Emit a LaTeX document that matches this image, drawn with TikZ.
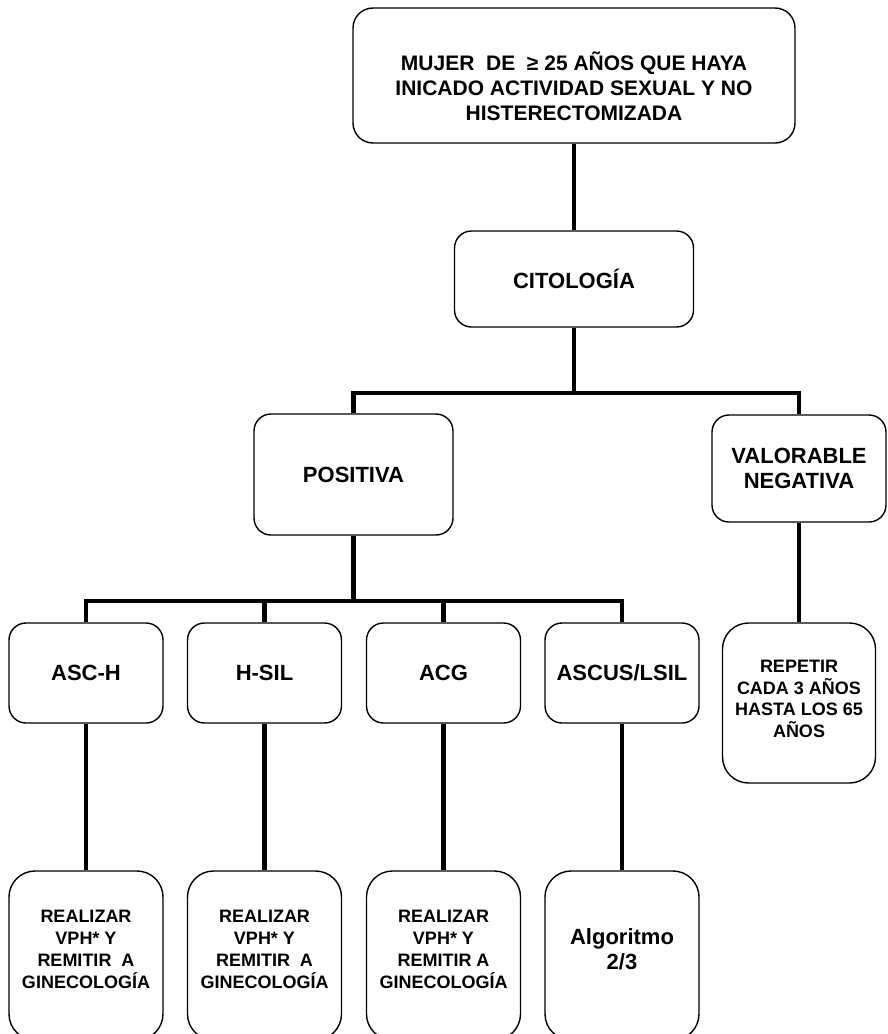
\documentclass[tikz,border=0pt]{standalone}
\usepackage{fontspec}
\setmainfont{Liberation Sans}
\usepackage{tikz}
\usetikzlibrary{calc}
\def\drawlink{\draw[line width=4.5pt]}
\def\boxnode{\node[draw=black,line width=1.4pt,rounded corners=17pt,align=center,inner sep=0pt]}

\begin{document}
\begin{tikzpicture}[x=1pt,y=1pt,
  big/.style={font=\fontsize{22}{25.5}\selectfont\bfseries},
  small/.style={font=\fontsize{18}{22}\selectfont\bfseries},
  tall/.style={rounded corners=26pt}]
\useasboundingbox (0,0) rectangle (888,-1034);
% top of the chart
\boxnode[font=\fontsize{21}{25}\selectfont\bfseries,minimum width=442pt,minimum height=135pt,rounded corners=20pt] (top) at (574,-75.5)
  {\rule{0pt}{40pt}MUJER\ \ DE\ \ ≥ 25 AÑOS QUE HAYA\\INICADO ACTIVIDAD SEXUAL Y NO\\HISTERECTOMIZADA};
\boxnode[big,minimum width=239pt,minimum height=96pt] (cito) at (574,-279) {CITOLOGÍA};
\boxnode[big,minimum width=199pt,minimum height=121pt] (pos) at (353.5,-474.5) {POSITIVA};
\boxnode[big,minimum width=174pt,minimum height=107pt] (neg) at (799,-468.5) {VALORABLE\\NEGATIVA};
% results
\boxnode[big,minimum width=154pt,minimum height=100pt] (asch) at (86,-673) {ASC-H};
\boxnode[big,minimum width=154pt,minimum height=100pt] (hsil) at (264.5,-673) {H-SIL};
\boxnode[big,minimum width=154pt,minimum height=100pt] (acg) at (443.5,-673) {ACG};
\boxnode[big,minimum width=154pt,minimum height=100pt] (ascus) at (622,-673) {ASCUS/LSIL};
\boxnode[tall,font=\fontsize{18}{21.5}\selectfont\bfseries,minimum width=153pt,minimum height=160pt] (rep) at (799,-703)
  {REPETIR\\CADA 3 AÑOS\\HASTA LOS 65\\AÑOS\rule[-8pt]{0pt}{8pt}};
% what to do
\boxnode[small,tall,minimum width=154pt,minimum height=169pt] (vph1) at (86,-955.5)
  {REALIZAR\\VPH* Y\\REMITIR\ \ A\\GINECOLOGÍA\rule[-13pt]{0pt}{13pt}};
\boxnode[small,tall,minimum width=154pt,minimum height=169pt] (vph2) at (264.5,-955.5)
  {REALIZAR\\VPH* Y\\REMITIR\ \ A\\GINECOLOGÍA\rule[-13pt]{0pt}{13pt}};
\boxnode[small,tall,minimum width=154pt,minimum height=169pt] (vph3) at (443.5,-955.5)
  {REALIZAR\\VPH* Y\\REMITIR A\\GINECOLOGÍA\rule[-13pt]{0pt}{13pt}};
\boxnode[big,tall,minimum width=154pt,minimum height=169pt] (alg) at (622,-955.5)
  {Algoritmo\\2/3\rule[-13pt]{0pt}{13pt}};
% links
\coordinate (j1) at (574,-393);
\coordinate (j2) at (353.5,-601);
\drawlink (top.south) -- (cito.north);
\drawlink (cito.south) -- (j1);
\drawlink (pos.north) |- (j1) -| (neg.north);
\drawlink (neg.south) -- (rep.north);
\drawlink (pos.south) -- (j2);
\drawlink (asch.north) |- (j2) -| (ascus.north);
\drawlink (hsil.north) -- (hsil.north |- j2);
\drawlink (acg.north) -- (acg.north |- j2);
\drawlink (asch.south) -- (vph1.north);
\drawlink (hsil.south) -- (vph2.north);
\drawlink (acg.south) -- (vph3.north);
\drawlink (ascus.south) -- (alg.north);
\end{tikzpicture}
\end{document}
